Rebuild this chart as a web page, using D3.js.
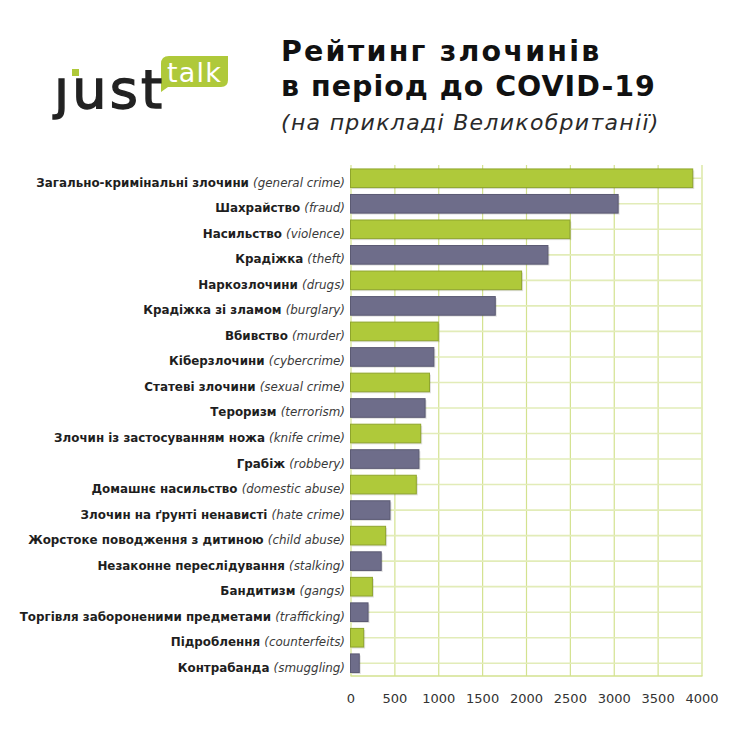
<!DOCTYPE html>
<html>
<head>
<meta charset="utf-8">
<script src="https://cdn.jsdelivr.net/npm/d3@7"></script>
<style>
  body { margin: 0; background: #fff; }
  svg { display: block; }
  .grid line { stroke: #d3e28f; stroke-width: 1.2; }
  .grid path { display: none; }
  .hgrid line { stroke: #e2ecb8; stroke-width: 1.6; }
  .hgrid path { display: none; }
  .label { font-family: "DejaVu Sans", sans-serif; font-size: 11.9px; fill: #1e1e1e; }
  .label .ua { font-weight: bold; }
  .label .en { font-style: italic; fill: #3a3a3a; }
  .xaxis text { font-family: "DejaVu Sans", sans-serif; font-size: 13px; fill: #333; }
  .xaxis path, .xaxis line { display: none; }
</style>
</head>
<body>
<svg id="chart" width="750" height="750"></svg>
<script>
// categories, top to bottom
var namesUa = ["Загально-кримінальні злочини", "Шахрайство", "Насильство", "Крадіжка",
  "Наркозлочини", "Крадіжка зі зламом", "Вбивство", "Кіберзлочини", "Статеві злочини",
  "Тероризм", "Злочин із застосуванням ножа", "Грабіж", "Домашнє насильство",
  "Злочин на ґрунті ненависті", "Жорстоке поводження з дитиною", "Незаконне переслідування",
  "Бандитизм", "Торгівля забороненими предметами", "Підроблення", "Контрабанда"];
var namesEn = ["general crime", "fraud", "violence", "theft", "drugs", "burglary", "murder",
  "cybercrime", "sexual crime", "terrorism", "knife crime", "robbery", "domestic abuse",
  "hate crime", "child abuse", "stalking", "gangs", "trafficking", "counterfeits", "smuggling"];
var values = [3900, 3050, 2500, 2250, 1950, 1650, 1000, 950, 900, 850, 800, 780, 750,
  450, 400, 350, 250, 200, 150, 100];
var xTicks = [0, 500, 1000, 1500, 2000, 2500, 3000, 3500, 4000];
var titleLines = ["Рейтинг злочинів", "в період до COVID-19"];
var subtitle = "(на прикладі Великобританії)";

var GREEN = "#afc93a";
var PURPLE = "#6e6d8a";

var svg = d3.select("#chart");

var x = d3.scaleLinear().domain([0, 4000]).range([350.5, 701.5]);
var y = d3.scaleBand().domain(d3.range(values.length)).range([165.5, 676]).paddingInner(0.27).paddingOuter(0.135);

// vertical grid
svg.append("g")
  .attr("class", "grid")
  .attr("transform", "translate(0,676)")
  .call(d3.axisBottom(x).tickValues(xTicks).tickSize(-511).tickFormat(""));

// horizontal lines through bar centres
svg.append("g")
  .attr("class", "hgrid")
  .attr("transform", "translate(350.5,0)")
  .call(d3.axisRight(y).tickSize(352).tickFormat(""));

// bottom line
svg.append("line")
  .attr("x1", x(0)).attr("x2", x(4000) + 1)
  .attr("y1", 676).attr("y2", 676)
  .attr("stroke", "#d3e28f").attr("stroke-width", 1.4);

// bars, with a light shadow
var bars = svg.append("g");
bars.selectAll("rect.shadow")
  .data(values)
  .join("rect")
  .attr("class", "shadow")
  .attr("x", x(0) + 1.5)
  .attr("y", function(d, i) { return y(i) + 1.5; })
  .attr("width", function(d) { return x(d) - x(0); })
  .attr("height", y.bandwidth())
  .attr("fill", "#000")
  .attr("opacity", 0.12);

bars.selectAll("rect.bar")
  .data(values)
  .join("rect")
  .attr("class", "bar")
  .attr("x", x(0))
  .attr("y", function(d, i) { return y(i); })
  .attr("width", function(d) { return x(d) - x(0); })
  .attr("height", y.bandwidth())
  .attr("fill", function(d, i) { return i % 2 ? PURPLE : GREEN; })
  .attr("stroke", function(d, i) { return i % 2 ? "#5b5a73" : "#8fa52c"; })
  .attr("stroke-width", 1);

// category labels (sit a little below the bar centre, as in the original)
var labels = svg.append("g")
  .selectAll("text")
  .data(values)
  .join("text")
  .attr("class", "label")
  .attr("x", 345)
  .attr("y", function(d, i) { return y(i) + y.bandwidth() / 2 + 8.5; })
  .attr("text-anchor", "end");
labels.append("tspan").attr("class", "ua").text(function(d, i) { return namesUa[i] + " "; });
labels.append("tspan").attr("class", "en").text(function(d, i) { return "(" + namesEn[i] + ")"; });

// x axis labels
svg.append("g")
  .attr("class", "xaxis")
  .attr("transform", "translate(0,691)")
  .call(d3.axisBottom(x).tickValues(xTicks).tickSize(0).tickFormat(d3.format("d")));

// title
svg.append("g")
  .selectAll("text")
  .data(titleLines)
  .join("text")
  .attr("x", 281)
  .attr("y", function(d, i) { return 61 + i * 35; })
  .attr("font-family", "'DejaVu Sans', sans-serif")
  .attr("font-weight", "bold")
  .attr("font-size", 28.5)
  .attr("letter-spacing", function(d, i) { return i ? 1 : 2.2; })
  .attr("fill", "#111")
  .text(function(d) { return d; });

svg.append("text")
  .attr("x", 281)
  .attr("y", 130)
  .attr("font-family", "'DejaVu Sans', sans-serif")
  .attr("font-style", "italic")
  .attr("font-size", 22)
  .attr("letter-spacing", 1.3)
  .attr("fill", "#2a2a2a")
  .text(subtitle);

// logo
var logo = svg.append("g");
logo.append("path")
  .attr("d", "M161,92 L161,64 Q161,56 169,56 L228,56 L228,80 Q228,87 221,87 L168,87 Z")
  .attr("fill", GREEN);
logo.append("text")
  .attr("x", 167).attr("y", 82)
  .attr("font-family", "'DejaVu Sans', sans-serif")
  .attr("font-size", 27)
  .attr("letter-spacing", 1.2)
  .attr("fill", "#fff")
  .text("talk");
logo.append("text")
  .attr("x", 54).attr("y", 108)
  .attr("font-family", "'DejaVu Sans', sans-serif")
  .attr("font-size", 54)
  .attr("letter-spacing", 3.2)
  .attr("fill", "#222")
  .attr("stroke", "#222")
  .attr("stroke-width", 1.4)
  .text("\u0237ust");
logo.append("rect")
  .attr("x", 72).attr("y", 69).attr("width", 7).attr("height", 7)
  .attr("fill", GREEN);
</script>
</body>
</html>
